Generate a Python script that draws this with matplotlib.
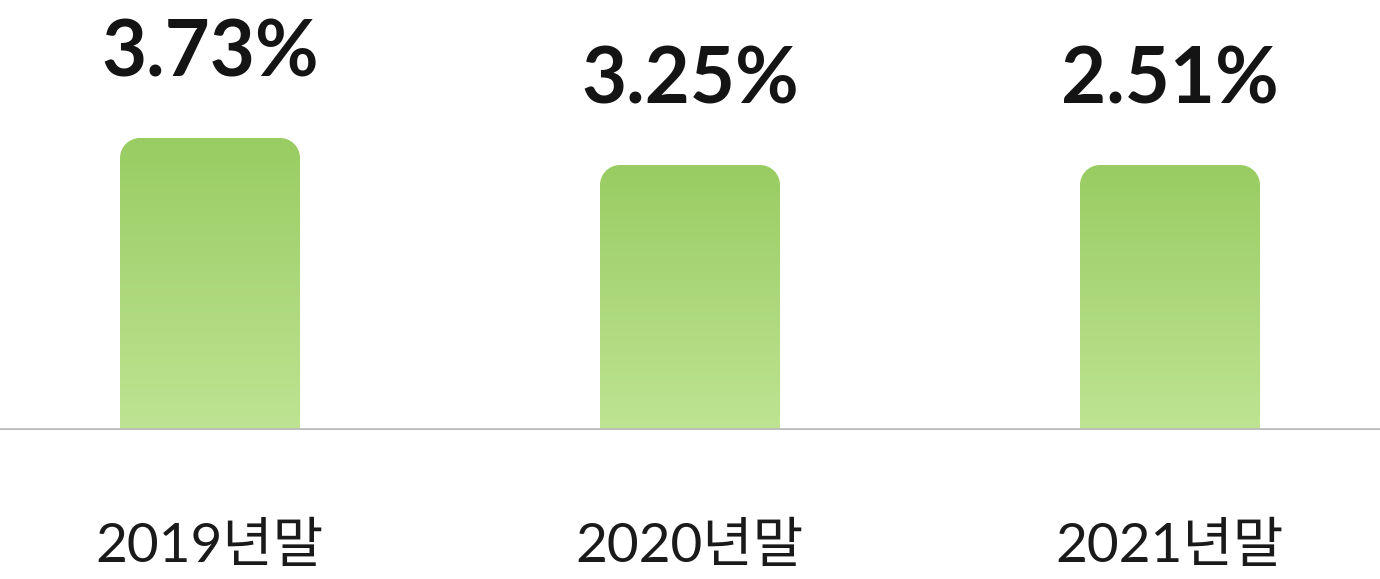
import numpy as np
import matplotlib.pyplot as plt
from matplotlib.path import Path
from matplotlib.colors import LinearSegmentedColormap

plt.rcParams['font.family'] = ['Lato', 'Noto Sans CJK KR', 'DejaVu Sans']

categories = ['2019년말', '2020년말', '2021년말']
rates = [3.73, 3.25, 2.51]
# drawn bar heights (the chart does not scale bars to the rates)
bar_heights = [2.92, 2.65, 2.65]

W, H, DPI = 1380, 579, 100
fig = plt.figure(figsize=(W / DPI, H / DPI), dpi=DPI)
base_px = 430
ax = fig.add_axes([0, (H - base_px) / H, 1, base_px / H])
ax.set_xlim(-0.4375, 2.4375)
ax.set_ylim(0, 4.30)
ax.axis('off')

px_x = 480.0   # pixels per x unit
px_y = 100.0   # pixels per y unit
bar_w = 0.375
r_px = 20
rx, ry = r_px / px_x, r_px / px_y

cmap = LinearSegmentedColormap.from_list('g', ['#bee493', '#99cc62'])
grad = np.linspace(0, 1, 256).reshape(-1, 1)

k = 0.5523
for i, (h, rate) in enumerate(zip(bar_heights, rates)):
    x0, x1 = i - bar_w / 2, i + bar_w / 2
    verts = [(x0, 0), (x0, h - ry),
             (x0, h - ry + k * ry), (x0 + rx - k * rx, h), (x0 + rx, h),
             (x1 - rx, h),
             (x1 - rx + k * rx, h), (x1, h - ry + k * ry), (x1, h - ry),
             (x1, 0), (x0, 0)]
    codes = [Path.MOVETO, Path.LINETO,
             Path.CURVE4, Path.CURVE4, Path.CURVE4,
             Path.LINETO,
             Path.CURVE4, Path.CURVE4, Path.CURVE4,
             Path.LINETO, Path.CLOSEPOLY]
    path = Path(verts, codes)
    im = ax.imshow(grad, cmap=cmap, origin='lower', aspect='auto',
                   extent=[x0, x1, 0, h], interpolation='bilinear', zorder=2)
    im.set_clip_path(path, transform=ax.transData)

    ax.annotate(f'{rate:.2f}%', xy=(i, h), xytext=(0, 44), textcoords='offset points',
                ha='center', va='baseline', fontsize=56, fontweight='bold',
                color='#141414', annotation_clip=False)
    ax.annotate(categories[i], xy=(i, 0), xytext=(0, -95), textcoords='offset points',
                ha='center', va='baseline', fontsize=39.5, color='#1a1a1a',
                annotation_clip=False)

ax.axhline(0, color='#bbbbbb', linewidth=2.6, zorder=3)

fig.savefig('out.png', dpi=DPI)
